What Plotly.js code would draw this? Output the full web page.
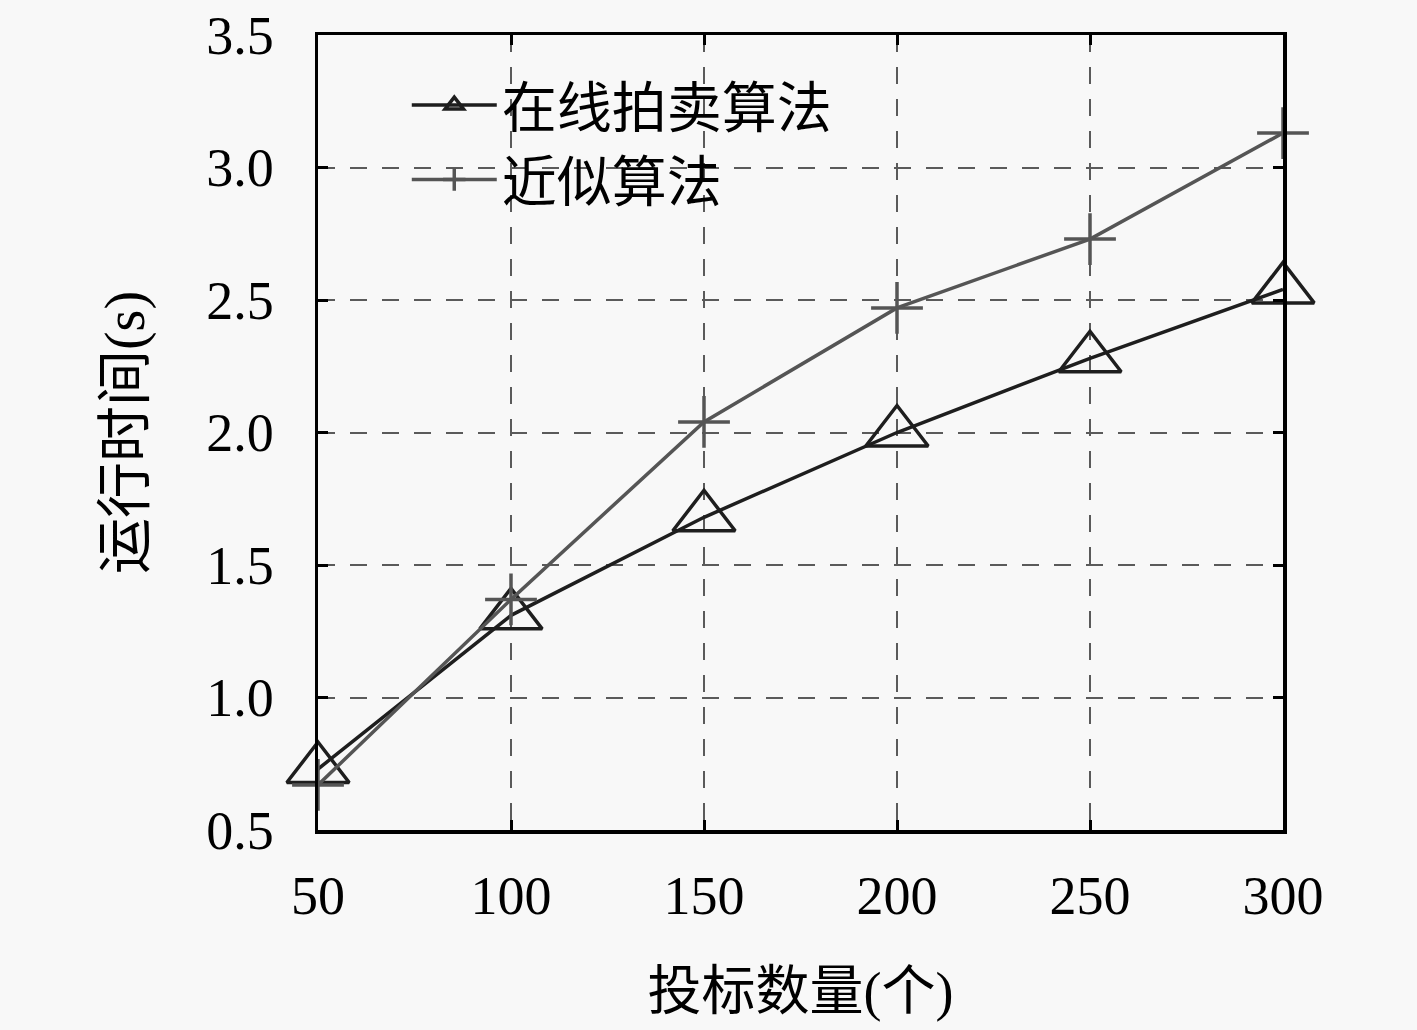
<!DOCTYPE html>
<html>
<head>
<meta charset="utf-8">
<script src="https://cdn.plot.ly/plotly-3.0.1.min.js"></script>
<style>
html,body{margin:0;padding:0;background:#f8f8f8;}
#chart{width:1417px;height:1030px;}
</style>
</head>
<body>
<div id="chart"></div>
<script>
// Data
const bidCounts = [50, 100, 150, 200, 250, 300];
const onlineAuctionTime = [0.73, 1.31, 1.68, 2.0, 2.28, 2.54];
const approxTime = [0.67, 1.37, 2.04, 2.47, 2.73, 3.13];
const seriesNames = ['在线拍卖算法', '近似算法'];
const yTicks = [0.5, 1.0, 1.5, 2.0, 2.5, 3.0, 3.5];
const xTicks = [50, 100, 150, 200, 250, 300];

const serif = '"Liberation Serif", "DejaVu Serif", "Noto Sans CJK SC", serif';
const cjk = '"Liberation Serif", "Noto Sans CJK SC", serif';

const traces = [
  {
    x: bidCounts, y: onlineAuctionTime, name: seriesNames[0],
    mode: 'lines+markers', type: 'scatter', cliponaxis: false,
    line: {color: '#1e1e1e', width: 3.5},
    marker: {symbol: 'triangle-up-open', size: 54, color: '#1e1e1e', line: {width: 3.5, color: '#1e1e1e'}}
  },
  {
    x: bidCounts, y: approxTime, name: seriesNames[1],
    mode: 'lines+markers', type: 'scatter', cliponaxis: false,
    line: {color: '#555555', width: 3.5},
    marker: {symbol: 'cross-thin-open', size: 37, color: '#555555', line: {width: 3.5, color: '#555555'}}
  }
];

const axisCommon = {
  showline: true, linecolor: '#000', linewidth: 3.5, mirror: 'ticks',
  ticks: 'inside', ticklen: 10, tickwidth: 3, tickcolor: '#000',
  showgrid: true, gridcolor: '#5a5a5a', gridwidth: 2, griddash: '17px,15px',
  zeroline: false, ticklabeloverflow: 'allow',
  tickfont: {family: serif, size: 54, color: '#000'}
};

const layout = {
  width: 1417, height: 1030,
  paper_bgcolor: '#f8f8f8', plot_bgcolor: '#f8f8f8',
  margin: {l: 318, r: 134, t: 35, b: 200},
  showlegend: true,
  legend: {
    x: 0.092, y: 0.965, xanchor: 'left', yanchor: 'top',
    bgcolor: 'rgba(0,0,0,0)', borderwidth: 0,
    font: {family: cjk, size: 55, color: '#000'},
    itemwidth: 85, itemsizing: 'trace', tracegroupgap: 0
  },
  xaxis: Object.assign({}, axisCommon, {
    range: [50, 300], tickvals: xTicks, ticktext: xTicks.map(String),
    ticklabelstandoff: 16,
    title: {text: '投标数量(个)', font: {family: cjk, size: 54, color: '#000'}, standoff: 48}
  }),
  yaxis: Object.assign({}, axisCommon, {
    range: [0.5, 3.5], tickvals: yTicks, ticktext: yTicks.map(v => v.toFixed(1)),
    ticklabelstandoff: 30,
    title: {text: '运行时间(s)', font: {family: cjk, size: 56, color: '#000'}, standoff: 44}
  })
};

Plotly.newPlot('chart', traces, layout, {displayModeBar: false, staticPlot: true});
</script>
</body>
</html>
